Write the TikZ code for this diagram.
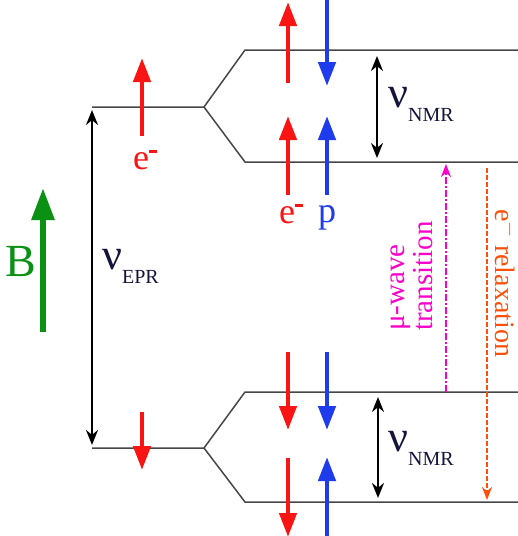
\documentclass[tikz,border=0pt]{standalone}
\usepackage{fontspec}
\setmainfont{Liberation Serif}
\usetikzlibrary{arrows.meta}
\definecolor{cred}{RGB}{250,20,20}
\definecolor{cblue}{RGB}{30,60,235}
\definecolor{cgreen}{RGB}{10,145,20}
\definecolor{cmag}{RGB}{250,0,200}
\definecolor{corange}{RGB}{250,80,10}
\definecolor{cgray}{RGB}{70,70,70}
\definecolor{cnavy}{RGB}{20,20,60}
\newcommand{\nusub}[1]{ν\raisebox{-0.32em}{\fontsize{20}{20}\selectfont #1}}
\begin{document}
\begin{tikzpicture}[x=1pt,y=-1pt,
  level/.style={draw=cgray,line width=1.5pt},
  spin/.style={line width=4.5pt,-{Triangle[length=24pt,width=17pt]}},
  gap/.style={black,line width=2.2pt,{Stealth[length=15pt,width=12pt]}-{Stealth[length=15pt,width=12pt]}},
  lbl/.style={inner sep=0pt,font=\fontsize{36}{36}\selectfont},
  nulbl/.style={inner sep=0pt,anchor=west,text=cnavy,font=\fontsize{44}{44}\selectfont},
  rot/.style={inner sep=0pt,font=\fontsize{29}{28}\selectfont}]
\useasboundingbox (0,0) rectangle (518,536);
% level coordinates
\coordinate (uL) at (92,107); \coordinate (uS) at (204,107);
\coordinate (uA) at (245,50); \coordinate (uAe) at (518,50);
\coordinate (uB) at (245,162); \coordinate (uBe) at (518,162);
\coordinate (lL) at (92,448); \coordinate (lS) at (204,448);
\coordinate (lA) at (245,392); \coordinate (lAe) at (518,392);
\coordinate (lB) at (245,502); \coordinate (lBe) at (518,502);
\draw[level] (uL) -- (uS) -- (uA) -- (uAe);
\draw[level] (uS) -- (uB) -- (uBe);
\draw[level] (lL) -- (lS) -- (lA) -- (lAe);
\draw[level] (lS) -- (lB) -- (lBe);
% B field
\coordinate (b0) at (43,332); \coordinate (b1) at (43,188);
\draw[cgreen,line width=6pt,-{Triangle[length=32pt,width=22pt]}] (b0) -- (b1);
\node[lbl,text=cgreen,font=\fontsize{46}{46}\selectfont] (B) at (21,262) {B};
% EPR
\coordinate (e0) at (92,110); \coordinate (e1) at (92,445);
\draw[gap] (e0) -- (e1);
\node[nulbl] (nuEPR) at (102,266) {\nusub{EPR}};
% left electron spins
\coordinate (le0) at (142,136); \coordinate (le1) at (142,58);
\draw[spin,cred] (le0) -- (le1);
\node[lbl,text=cred] (le) at (145,160) {e\raisebox{0.45em}{\rule{0.22em}{0.07em}}};
\coordinate (ld0) at (142,412); \coordinate (ld1) at (142,470);
\draw[spin,cred] (ld0) -- (ld1);
% upper right pairs
\coordinate (r1a) at (288,83); \coordinate (r1b) at (288,2);
\draw[spin,cred] (r1a) -- (r1b);
\coordinate (b1a) at (327,0); \coordinate (b1b) at (327,86);
\draw[spin,cblue] (b1a) -- (b1b);
\coordinate (r2a) at (288,195); \coordinate (r2b) at (288,116);
\draw[spin,cred] (r2a) -- (r2b);
\coordinate (b2a) at (327,195); \coordinate (b2b) at (327,116);
\draw[spin,cblue] (b2a) -- (b2b);
\node[lbl,text=cred] (e2) at (291,214) {e\raisebox{0.45em}{\rule{0.22em}{0.07em}}};
\node[lbl,text=cblue] (p) at (327,218) {p};
% lower right pairs
\coordinate (r3a) at (288,352); \coordinate (r3b) at (288,430);
\draw[spin,cred] (r3a) -- (r3b);
\coordinate (b3a) at (327,352); \coordinate (b3b) at (327,430);
\draw[spin,cblue] (b3a) -- (b3b);
\coordinate (r4a) at (288,458); \coordinate (r4b) at (288,537);
\draw[spin,cred] (r4a) -- (r4b);
\coordinate (b4a) at (327,540); \coordinate (b4b) at (327,457);
\draw[spin,cblue] (b4a) -- (b4b);
% NMR gaps
\coordinate (n1a) at (377,56); \coordinate (n1b) at (377,158);
\draw[gap] (n1a) -- (n1b);
\node[nulbl] (nuNMR1) at (388,104) {\nusub{NMR}};
\coordinate (n2a) at (378,397); \coordinate (n2b) at (378,498);
\draw[gap] (n2a) -- (n2b);
\node[nulbl] (nuNMR2) at (388,448) {\nusub{NMR}};
% microwave transition
\coordinate (m0) at (446,392); \coordinate (m1) at (446,164);
\draw[cmag,line width=2pt,dash pattern=on 7pt off 2pt on 2pt off 2pt,-{Stealth[length=13pt,width=10pt]}] (m0) -- (m1);
\node[rot,text=cmag,rotate=90,align=left] (mw) at (412,276) {μ-wave\\transition};
% relaxation
\coordinate (o0) at (487,168); \coordinate (o1) at (487,500);
\draw[corange,line width=2pt,dash pattern=on 5pt off 2pt,-{Stealth[length=13pt,width=10pt]}] (o0) -- (o1);
\node[rot,text=corange,rotate=-90,font=\fontsize{28}{28}\selectfont] (rel) at (506,283) {e$^{-}$ relaxation};
\end{tikzpicture}
\end{document}
